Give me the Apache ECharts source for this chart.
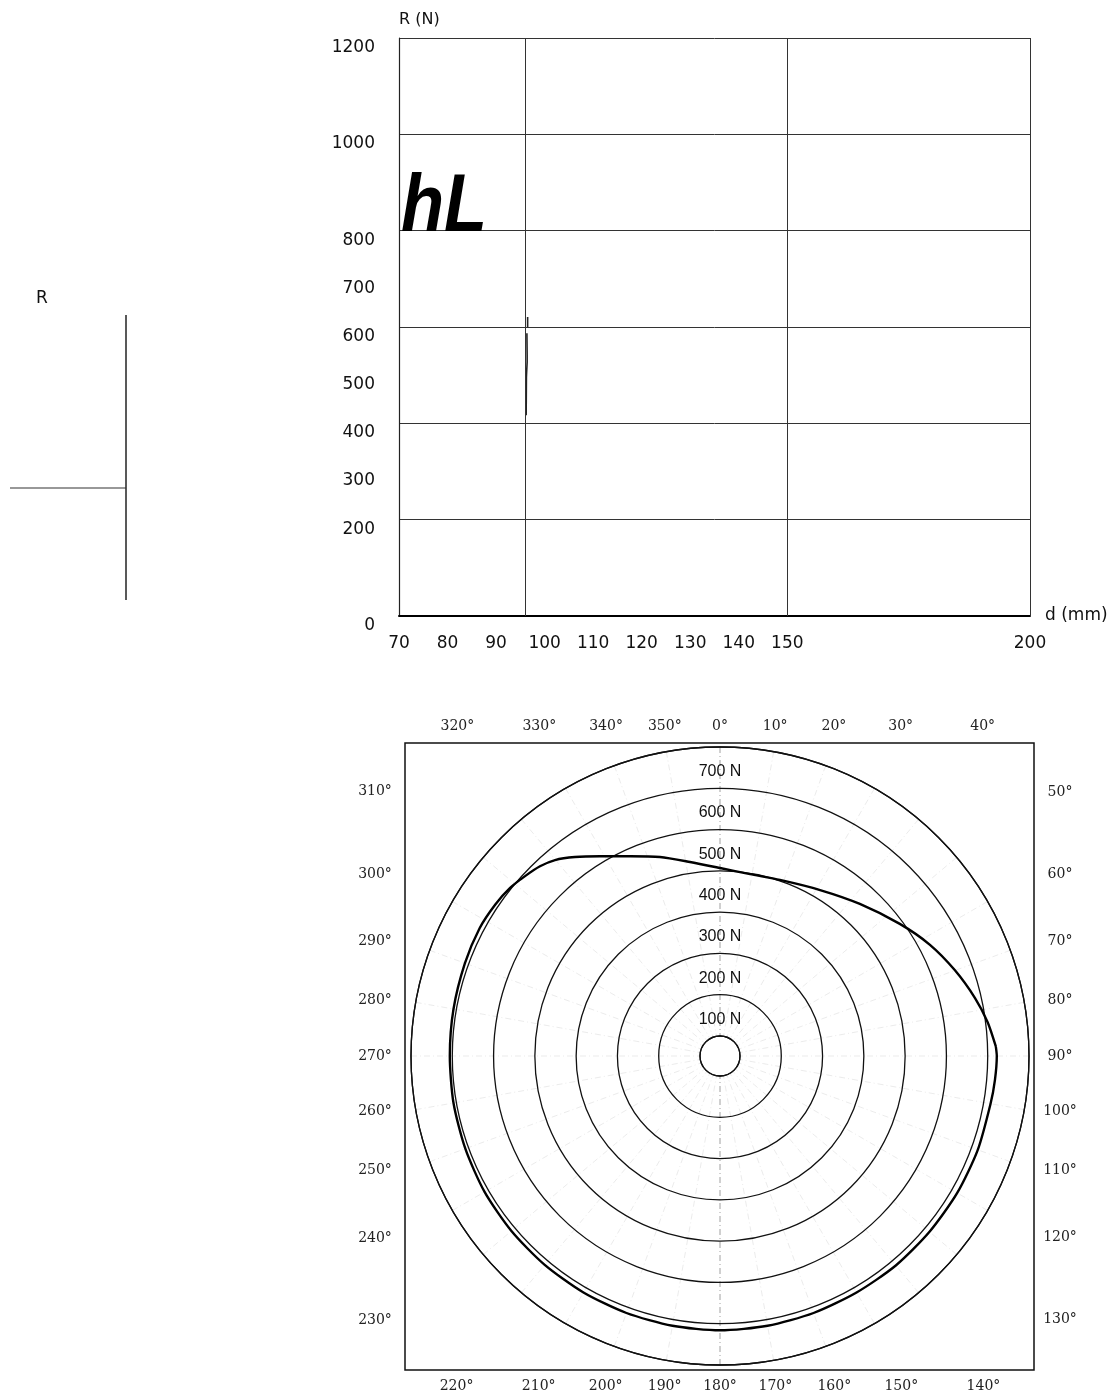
<!DOCTYPE html>
<html>
<head>
<meta charset="utf-8">
<script src="https://cdn.jsdelivr.net/npm/echarts@6/dist/echarts.min.js"></script>
<style>
  html, body { margin: 0; padding: 0; background: #fff; }
  #main { width: 1112px; height: 1395px; }
</style>
</head>
<body>
<div id="main"></div>
<script>
// ---- top chart : R (N) against d (mm)
const dTickLabels = [70, 80, 90, 100, 110, 120, 130, 140, 150, 200];
const rTickLabels = [0, 200, 300, 400, 500, 600, 700, 800, 1000, 1200];
const dGridLines = [96, 150, 200];
const traceD = [96.5, 96.5, null, 96.35, 96.4, 96.4, 96.3, 96.25, 96.2];
const traceR = [621, 599, null, 587, 542, 527, 507, 496, 417];

// ---- polar chart : force (N) against angle (deg)
const ringLabels = [100, 200, 300, 400, 500, 600, 700];
const angleLabels = [0, 10, 20, 30, 40, 50, 60, 70, 80, 90, 100, 110, 120, 130, 140, 150, 160, 170,
  180, 190, 200, 210, 220, 230, 240, 250, 260, 270, 280, 290, 300, 310, 320, 330, 340, 350];
const curveAngle = [88, 90, 95, 100, 110, 120, 130, 140, 150, 160, 170, 180, 190, 200, 210, 220, 230,
  240, 250, 260, 270, 280, 290, 298, 304, 308.7, 312.7, 316.5, 319.9, 323.9, 329, 335.8, 343.2, 351.2,
  0, 9.4, 18.8, 31.1, 42.6, 53.7, 62.1, 69.9, 77.2, 82.8, 88];
const curveForce = [720, 722, 720, 717, 716, 715, 714, 714, 713, 714, 715, 716, 715, 714, 713, 712, 711,
  710, 708, 707, 706, 707, 709, 711, 708, 703, 694, 685, 672, 648, 616, 582, 555, 527,
  507, 498, 502, 521, 552, 592, 627, 657, 685, 705, 720];

const cx = 720, cy = 1056;
const box = { left: 405, top: 743, right: 1034, bottom: 1370 };

const chart = echarts.init(document.getElementById('main'));

// angle labels sit outside the frame, where each ray leaves it
const angleTexts = angleLabels.map(a => {
  const t = a * Math.PI / 180, sx = Math.sin(t), sy = -Math.cos(t);
  const kx = sx > 1e-9 ? (box.right - cx) / sx : sx < -1e-9 ? (box.left - cx) / sx : Infinity;
  const ky = sy > 1e-9 ? (box.bottom - cy) / sy : sy < -1e-9 ? (box.top - cy) / sy : Infinity;
  let x, y;
  if (kx < ky) {
    y = cy + kx * sy;
    x = sx > 0 ? box.right + 26 : box.left - 30;
  } else {
    x = cx + ky * sx;
    y = sy > 0 ? box.bottom + 16 : box.top - 17;
  }
  return {
    type: 'text', x: x, y: y, silent: true,
    style: { text: a + '°', align: 'center', verticalAlign: 'middle', font: '14px "DejaVu Serif"', fill: '#222' }
  };
});

const option = {
  animation: false,
  backgroundColor: '#fff',
  textStyle: { fontFamily: 'DejaVu Sans' },
  grid: { left: 399, right: 82, top: 38, bottom: 779, containLabel: false },
  xAxis: {
    type: 'value', min: 70, max: 200, interval: 10,
    name: 'd (mm)', nameLocation: 'end', nameGap: 15,
    nameTextStyle: { fontSize: 17, color: '#111' },
    axisLine: { show: true, lineStyle: { color: '#000', width: 2 } },
    axisTick: { show: false },
    splitLine: { show: false },
    axisLabel: {
      fontSize: 17, color: '#111', margin: 19,
      formatter: v => dTickLabels.includes(v) ? String(v) : ''
    }
  },
  yAxis: {
    type: 'value', min: 0, max: 1200, interval: 100,
    name: 'R (N)', nameLocation: 'end', nameGap: 10,
    nameTextStyle: { fontSize: 16, color: '#111', align: 'left' },
    axisLine: { show: true, lineStyle: { color: '#222', width: 1.2 } },
    axisTick: { show: false },
    splitLine: { show: true, lineStyle: { color: ['#333', 'rgba(0,0,0,0)'], width: 1 } },
    axisLabel: {
      fontSize: 17, color: '#111', margin: 24, verticalAlign: 'top', lineHeight: 19,
      formatter: v => rTickLabels.includes(v) ? String(v) : ''
    }
  },
  polar: { center: [cx, cy], radius: [20, 309] },
  angleAxis: {
    type: 'value', min: 0, max: 360, interval: 10, startAngle: 90, clockwise: true,
    axisLine: { show: true, lineStyle: { color: '#111', width: 1.3 } },
    axisTick: { show: false },
    axisLabel: { show: false },
    splitLine: {
      show: true,
      lineStyle: {
        color: ['#888'].concat(Array(17).fill('#e6e6e6')),
        width: 0.8, type: [6, 3, 1, 3]
      }
    }
  },
  radiusAxis: {
    type: 'value', min: 100, max: 800, interval: 100,
    axisLine: { show: false },
    axisTick: { show: false },
    splitLine: { show: true, lineStyle: { color: '#111', width: 1.3 } },
    axisLabel: {
      margin: 0, align: 'center', verticalAlign: 'bottom', lineHeight: 33,
      fontSize: 16, fontFamily: 'Liberation Sans', color: '#111',
      formatter: v => ringLabels.includes(v) ? v + ' N' : ''
    },
    z: 5
  },
  graphic: [
    // left sketch
    { type: 'text', x: 42, y: 299, silent: true,
      style: { text: 'R', align: 'center', verticalAlign: 'middle', font: '17px "DejaVu Sans"', fill: '#111' } },
    { type: 'line', silent: true, shape: { x1: 126, y1: 315, x2: 126, y2: 600 }, style: { stroke: '#222', lineWidth: 1.5 } },
    { type: 'line', silent: true, shape: { x1: 10, y1: 488, x2: 126, y2: 488 }, style: { stroke: '#333', lineWidth: 1.2 } },
    // hL mark in the top chart
    { type: 'text', x: 401, y: 249, scaleX: 0.86, silent: true, z: 10,
      style: { text: 'hL', align: 'left', verticalAlign: 'bottom', font: 'italic bold 82px "Liberation Sans"', fill: '#000' } },
    // frame of the polar chart
    { type: 'rect', silent: true,
      shape: { x: box.left, y: box.top, width: box.right - box.left, height: box.bottom - box.top },
      style: { fill: 'none', stroke: '#111', lineWidth: 1.5 } }
  ].concat(angleTexts),
  series: [
    {
      type: 'line',
      xAxisIndex: 0, yAxisIndex: 0,
      data: traceD.map((d, i) => d === null ? ['-', '-'] : [d, traceR[i]]),
      symbol: 'none',
      lineStyle: { color: '#222', width: 1.6 },
      markLine: {
        silent: true, symbol: ['none', 'none'], label: { show: false },
        lineStyle: { color: '#333', width: 1, type: 'solid' },
        data: dGridLines.map(v => ({ xAxis: v }))
      }
    },
    {
      type: 'line',
      coordinateSystem: 'polar',
      data: curveAngle.map((a, i) => [curveForce[i], a]),
      symbol: 'none',
      smooth: 0.25,
      lineStyle: { color: '#000', width: 2.4 },
      z: 6
    }
  ]
};

chart.setOption(option);
</script>
</body>
</html>
